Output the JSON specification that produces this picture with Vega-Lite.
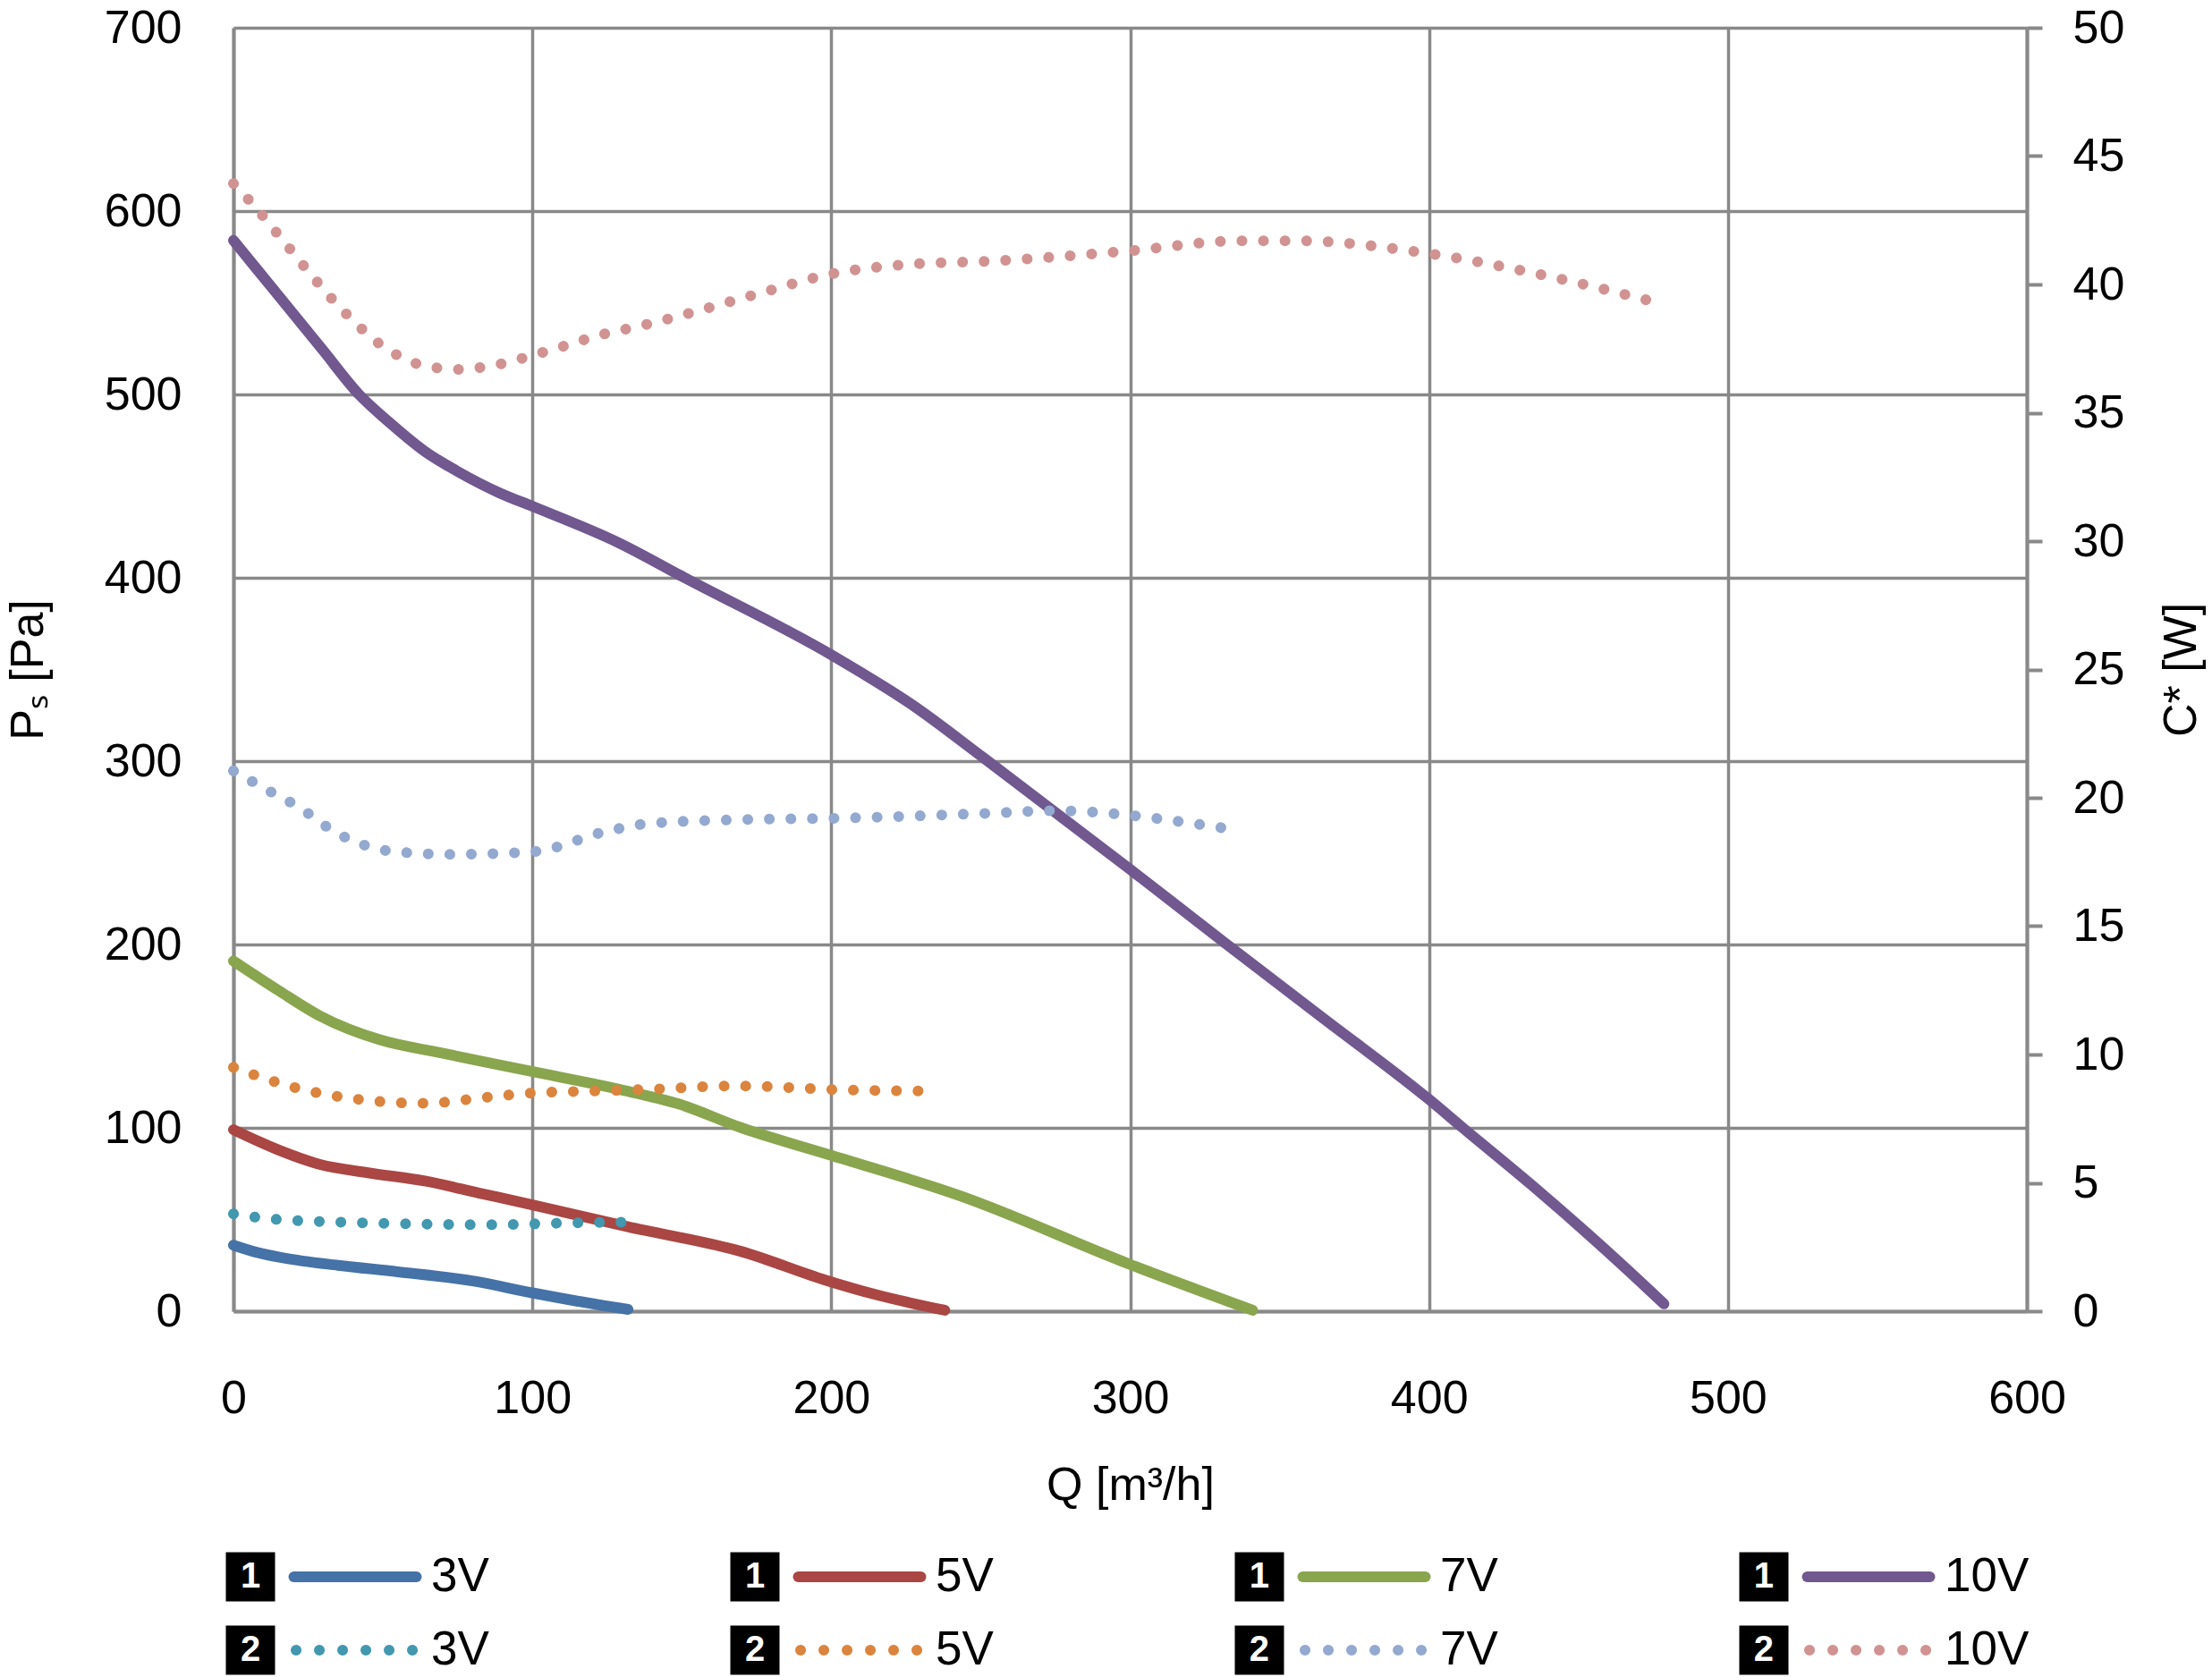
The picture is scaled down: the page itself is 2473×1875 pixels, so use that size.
{
  "$schema": "https://vega.github.io/schema/vega-lite/v6.json",
  "background": "white",
  "padding": {"left": 5, "top": 5, "right": 5, "bottom": 5},
  "config": {
    "view": {"stroke": null},
    "font": "Liberation Sans",
    "axis": {
      "labelFont": "Liberation Sans",
      "titleFont": "Liberation Sans",
      "labelFontSize": 52,
      "titleFontSize": 52,
      "labelColor": "black",
      "titleColor": "black",
      "titleFontWeight": "normal",
      "gridColor": "#898989",
      "gridWidth": 3.5,
      "gridOpacity": 1,
      "domainColor": "#898989",
      "domainWidth": 4,
      "tickColor": "#898989",
      "labelFlush": false,
      "labelOverlap": false
    }
  },
  "datasets": {
    "curves": [
      {"series": "1-3V", "curve": "1", "Q": 0, "value": 36},
      {"series": "1-3V", "curve": "1", "Q": 8, "value": 32},
      {"series": "1-3V", "curve": "1", "Q": 17, "value": 29},
      {"series": "1-3V", "curve": "1", "Q": 35, "value": 25},
      {"series": "1-3V", "curve": "1", "Q": 55, "value": 21.5},
      {"series": "1-3V", "curve": "1", "Q": 80, "value": 16.5},
      {"series": "1-3V", "curve": "1", "Q": 100, "value": 10},
      {"series": "1-3V", "curve": "1", "Q": 115, "value": 5.5},
      {"series": "1-3V", "curve": "1", "Q": 132, "value": 1},

      {"series": "1-5V", "curve": "1", "Q": 0, "value": 99},
      {"series": "1-5V", "curve": "1", "Q": 15, "value": 88},
      {"series": "1-5V", "curve": "1", "Q": 29, "value": 80},
      {"series": "1-5V", "curve": "1", "Q": 45, "value": 75.5},
      {"series": "1-5V", "curve": "1", "Q": 64, "value": 71},
      {"series": "1-5V", "curve": "1", "Q": 82, "value": 64.5},
      {"series": "1-5V", "curve": "1", "Q": 100, "value": 58},
      {"series": "1-5V", "curve": "1", "Q": 132, "value": 46},
      {"series": "1-5V", "curve": "1", "Q": 170, "value": 32.5},
      {"series": "1-5V", "curve": "1", "Q": 198, "value": 17},
      {"series": "1-5V", "curve": "1", "Q": 215, "value": 9},
      {"series": "1-5V", "curve": "1", "Q": 238, "value": 0.5},

      {"series": "1-7V", "curve": "1", "Q": 0, "value": 191},
      {"series": "1-7V", "curve": "1", "Q": 15, "value": 175},
      {"series": "1-7V", "curve": "1", "Q": 29, "value": 161},
      {"series": "1-7V", "curve": "1", "Q": 49, "value": 148},
      {"series": "1-7V", "curve": "1", "Q": 69, "value": 141},
      {"series": "1-7V", "curve": "1", "Q": 99, "value": 131},
      {"series": "1-7V", "curve": "1", "Q": 129, "value": 121},
      {"series": "1-7V", "curve": "1", "Q": 149, "value": 113},
      {"series": "1-7V", "curve": "1", "Q": 170, "value": 100},
      {"series": "1-7V", "curve": "1", "Q": 200, "value": 85},
      {"series": "1-7V", "curve": "1", "Q": 243, "value": 63},
      {"series": "1-7V", "curve": "1", "Q": 300, "value": 25.5},
      {"series": "1-7V", "curve": "1", "Q": 341, "value": 0.5},

      {"series": "1-10V", "curve": "1", "Q": 0, "value": 584},
      {"series": "1-10V", "curve": "1", "Q": 15, "value": 554},
      {"series": "1-10V", "curve": "1", "Q": 30, "value": 524},
      {"series": "1-10V", "curve": "1", "Q": 42, "value": 500},
      {"series": "1-10V", "curve": "1", "Q": 52, "value": 485},
      {"series": "1-10V", "curve": "1", "Q": 64, "value": 469},
      {"series": "1-10V", "curve": "1", "Q": 75, "value": 458},
      {"series": "1-10V", "curve": "1", "Q": 89.4, "value": 446},
      {"series": "1-10V", "curve": "1", "Q": 100, "value": 439},
      {"series": "1-10V", "curve": "1", "Q": 129, "value": 419},
      {"series": "1-10V", "curve": "1", "Q": 151, "value": 400},
      {"series": "1-10V", "curve": "1", "Q": 200, "value": 358},
      {"series": "1-10V", "curve": "1", "Q": 227.7, "value": 330},
      {"series": "1-10V", "curve": "1", "Q": 250.8, "value": 302},
      {"series": "1-10V", "curve": "1", "Q": 300, "value": 241},
      {"series": "1-10V", "curve": "1", "Q": 331.6, "value": 201},
      {"series": "1-10V", "curve": "1", "Q": 364.4, "value": 160},
      {"series": "1-10V", "curve": "1", "Q": 400, "value": 115.5},
      {"series": "1-10V", "curve": "1", "Q": 411.3, "value": 100},
      {"series": "1-10V", "curve": "1", "Q": 434.2, "value": 69},
      {"series": "1-10V", "curve": "1", "Q": 464.1, "value": 26},
      {"series": "1-10V", "curve": "1", "Q": 478.6, "value": 4},

      {"series": "2-3V", "curve": "2", "Q": 0, "value": 3.79},
      {"series": "2-3V", "curve": "2", "Q": 12, "value": 3.6},
      {"series": "2-3V", "curve": "2", "Q": 36, "value": 3.47},
      {"series": "2-3V", "curve": "2", "Q": 60, "value": 3.4},
      {"series": "2-3V", "curve": "2", "Q": 87, "value": 3.37},
      {"series": "2-3V", "curve": "2", "Q": 109, "value": 3.43},
      {"series": "2-3V", "curve": "2", "Q": 131, "value": 3.47},

      {"series": "2-5V", "curve": "2", "Q": 0, "value": 9.5},
      {"series": "2-5V", "curve": "2", "Q": 20.6, "value": 8.71},
      {"series": "2-5V", "curve": "2", "Q": 42, "value": 8.25},
      {"series": "2-5V", "curve": "2", "Q": 63.7, "value": 8.1},
      {"series": "2-5V", "curve": "2", "Q": 85.3, "value": 8.34},
      {"series": "2-5V", "curve": "2", "Q": 99.8, "value": 8.5},
      {"series": "2-5V", "curve": "2", "Q": 121.5, "value": 8.58},
      {"series": "2-5V", "curve": "2", "Q": 143, "value": 8.66},
      {"series": "2-5V", "curve": "2", "Q": 165, "value": 8.77},
      {"series": "2-5V", "curve": "2", "Q": 172, "value": 8.77},
      {"series": "2-5V", "curve": "2", "Q": 186.7, "value": 8.71},
      {"series": "2-5V", "curve": "2", "Q": 201, "value": 8.63},
      {"series": "2-5V", "curve": "2", "Q": 215.5, "value": 8.6},
      {"series": "2-5V", "curve": "2", "Q": 230, "value": 8.58},

      {"series": "2-7V", "curve": "2", "Q": 0, "value": 21.05},
      {"series": "2-7V", "curve": "2", "Q": 13, "value": 20.2},
      {"series": "2-7V", "curve": "2", "Q": 21, "value": 19.7},
      {"series": "2-7V", "curve": "2", "Q": 35, "value": 18.6},
      {"series": "2-7V", "curve": "2", "Q": 54, "value": 17.9},
      {"series": "2-7V", "curve": "2", "Q": 73, "value": 17.8},
      {"series": "2-7V", "curve": "2", "Q": 100, "value": 17.9},
      {"series": "2-7V", "curve": "2", "Q": 125, "value": 18.7},
      {"series": "2-7V", "curve": "2", "Q": 139, "value": 19.0},
      {"series": "2-7V", "curve": "2", "Q": 170, "value": 19.15},
      {"series": "2-7V", "curve": "2", "Q": 200, "value": 19.2},
      {"series": "2-7V", "curve": "2", "Q": 253, "value": 19.4},
      {"series": "2-7V", "curve": "2", "Q": 275, "value": 19.5},
      {"series": "2-7V", "curve": "2", "Q": 296.5, "value": 19.36},
      {"series": "2-7V", "curve": "2", "Q": 318, "value": 19.05},
      {"series": "2-7V", "curve": "2", "Q": 332.4, "value": 18.8},

      {"series": "2-10V", "curve": "2", "Q": 0, "value": 43.93},
      {"series": "2-10V", "curve": "2", "Q": 5, "value": 43.31},
      {"series": "2-10V", "curve": "2", "Q": 9.8, "value": 42.67},
      {"series": "2-10V", "curve": "2", "Q": 14.4, "value": 42.02},
      {"series": "2-10V", "curve": "2", "Q": 19, "value": 41.37},
      {"series": "2-10V", "curve": "2", "Q": 23.6, "value": 40.71},
      {"series": "2-10V", "curve": "2", "Q": 28.2, "value": 40.07},
      {"series": "2-10V", "curve": "2", "Q": 33, "value": 39.43},
      {"series": "2-10V", "curve": "2", "Q": 38, "value": 38.82},
      {"series": "2-10V", "curve": "2", "Q": 43.2, "value": 38.24},
      {"series": "2-10V", "curve": "2", "Q": 48.8, "value": 37.69},
      {"series": "2-10V", "curve": "2", "Q": 54.9, "value": 37.24},
      {"series": "2-10V", "curve": "2", "Q": 61.6, "value": 36.9},
      {"series": "2-10V", "curve": "2", "Q": 68.6, "value": 36.74},
      {"series": "2-10V", "curve": "2", "Q": 75.9, "value": 36.69},
      {"series": "2-10V", "curve": "2", "Q": 83, "value": 36.77},
      {"series": "2-10V", "curve": "2", "Q": 90.1, "value": 36.92},
      {"series": "2-10V", "curve": "2", "Q": 97.2, "value": 37.14},
      {"series": "2-10V", "curve": "2", "Q": 104.2, "value": 37.38},
      {"series": "2-10V", "curve": "2", "Q": 111.2, "value": 37.62},
      {"series": "2-10V", "curve": "2", "Q": 118, "value": 37.87},
      {"series": "2-10V", "curve": "2", "Q": 125, "value": 38.1},
      {"series": "2-10V", "curve": "2", "Q": 132.1, "value": 38.28},
      {"series": "2-10V", "curve": "2", "Q": 139.2, "value": 38.47},
      {"series": "2-10V", "curve": "2", "Q": 146.2, "value": 38.68},
      {"series": "2-10V", "curve": "2", "Q": 176.5, "value": 39.67},
      {"series": "2-10V", "curve": "2", "Q": 199.6, "value": 40.4},
      {"series": "2-10V", "curve": "2", "Q": 228.4, "value": 40.8},
      {"series": "2-10V", "curve": "2", "Q": 252, "value": 40.9},
      {"series": "2-10V", "curve": "2", "Q": 299, "value": 41.3},
      {"series": "2-10V", "curve": "2", "Q": 336.8, "value": 41.7},
      {"series": "2-10V", "curve": "2", "Q": 355.7, "value": 41.7},
      {"series": "2-10V", "curve": "2", "Q": 400, "value": 41.2},
      {"series": "2-10V", "curve": "2", "Q": 440.6, "value": 40.3},
      {"series": "2-10V", "curve": "2", "Q": 476, "value": 39.3}
    ],
    "legend": [
      {"series": "1-3V", "curve": "1", "voltage": "3V"},
      {"series": "1-5V", "curve": "1", "voltage": "5V"},
      {"series": "1-7V", "curve": "1", "voltage": "7V"},
      {"series": "1-10V", "curve": "1", "voltage": "10V"},
      {"series": "2-3V", "curve": "2", "voltage": "3V"},
      {"series": "2-5V", "curve": "2", "voltage": "5V"},
      {"series": "2-7V", "curve": "2", "voltage": "7V"},
      {"series": "2-10V", "curve": "2", "voltage": "10V"}
    ]
  },
  "spacing": 36,
  "vconcat": [
    {
      "width": 2005,
      "height": 1435,
      "data": {"name": "curves"},
      "encoding": {
        "x": {
          "field": "Q",
          "type": "quantitative",
          "scale": {"domain": [0, 600], "nice": false},
          "axis": {
            "values": [0, 100, 200, 300, 400, 500, 600],
            "grid": true,
            "ticks": false,
            "labelPadding": 72,
            "title": "Q [m³/h]",
            "titlePadding": 46
          }
        },
        "color": {
          "field": "series",
          "type": "nominal",
          "scale": {
            "domain": ["1-3V", "1-5V", "1-7V", "1-10V", "2-3V", "2-5V", "2-7V", "2-10V"],
            "range": ["#4572A7", "#AA4643", "#89A54E", "#71588F", "#4198AF", "#DB843D", "#93A9CF", "#D19392"]
          },
          "legend": null
        }
      },
      "layer": [
        {
          "transform": [{"filter": "datum.curve === '1'"}],
          "mark": {"type": "line", "strokeWidth": 12, "strokeCap": "round", "strokeJoin": "round", "interpolate": "monotone"},
          "encoding": {
            "y": {
              "field": "value",
              "type": "quantitative",
              "scale": {"domain": [0, 700], "nice": false},
              "axis": {
                "orient": "left",
                "values": [0, 100, 200, 300, 400, 500, 600, 700],
                "grid": true,
                "ticks": false,
                "labelPadding": 58,
                "title": "Pₛ [Pa]",
                "titlePadding": 58
              }
            }
          }
        },
        {
          "transform": [{"filter": "datum.curve === '2'"}],
          "mark": {"type": "line", "strokeWidth": 12, "strokeCap": "round", "strokeJoin": "round", "strokeDash": [0.1, 24], "interpolate": "monotone"},
          "encoding": {
            "y": {
              "field": "value",
              "type": "quantitative",
              "scale": {"domain": [0, 50], "nice": false},
              "axis": {
                "orient": "right",
                "values": [0, 5, 10, 15, 20, 25, 30, 35, 40, 45, 50],
                "grid": false,
                "ticks": true,
                "tickSize": 17,
                "tickWidth": 4,
                "labelPadding": 34,
                "title": "C* [W]",
                "titleAngle": 270,
                "titleBaseline": "top",
                "titlePadding": 39
              }
            }
          }
        }
      ],
      "resolve": {"scale": {"y": "independent"}}
    },
    {
      "width": 1730,
      "height": 164,
      "data": {"name": "legend"},
      "encoding": {
        "x": {
          "field": "voltage",
          "type": "ordinal",
          "scale": {"type": "point", "domain": ["3V", "5V", "7V", "10V"], "padding": 0.0337},
          "axis": null
        },
        "y": {
          "field": "curve",
          "type": "ordinal",
          "scale": {"type": "point", "domain": ["1", "2"], "padding": 0.5},
          "axis": null
        }
      },
      "layer": [
        {
          "mark": {"type": "square", "size": 3025, "filled": true, "color": "black", "opacity": 1}
        },
        {
          "mark": {"type": "text", "color": "white", "fontSize": 40, "fontWeight": "bold", "font": "Liberation Sans", "align": "center", "baseline": "middle"},
          "encoding": {"text": {"field": "curve"}}
        },
        {
          "transform": [{"filter": "datum.curve === '1'"}],
          "mark": {"type": "point", "shape": "M-1,0L1,0", "size": 18769, "filled": false, "strokeWidth": 12, "strokeCap": "round", "opacity": 1, "xOffset": 117},
          "encoding": {
            "color": {"field": "series", "type": "nominal", "scale": {"domain": ["1-3V", "1-5V", "1-7V", "1-10V", "2-3V", "2-5V", "2-7V", "2-10V"], "range": ["#4572A7", "#AA4643", "#89A54E", "#71588F", "#4198AF", "#DB843D", "#93A9CF", "#D19392"]}, "legend": null}
          }
        },
        {
          "transform": [{"filter": "datum.curve === '2'"}],
          "mark": {"type": "point", "shape": "M-1,0L1,0", "size": 17424, "filled": false, "strokeWidth": 12, "strokeCap": "round", "strokeDash": [0.1, 25.9], "opacity": 1, "xOffset": 117},
          "encoding": {
            "color": {"field": "series", "type": "nominal", "scale": {"domain": ["1-3V", "1-5V", "1-7V", "1-10V", "2-3V", "2-5V", "2-7V", "2-10V"], "range": ["#4572A7", "#AA4643", "#89A54E", "#71588F", "#4198AF", "#DB843D", "#93A9CF", "#D19392"]}, "legend": null}
          }
        },
        {
          "mark": {"type": "text", "color": "black", "fontSize": 53, "font": "Liberation Sans", "align": "left", "baseline": "middle", "xOffset": 202},
          "encoding": {"text": {"field": "voltage"}}
        }
      ]
    }
  ]
}
